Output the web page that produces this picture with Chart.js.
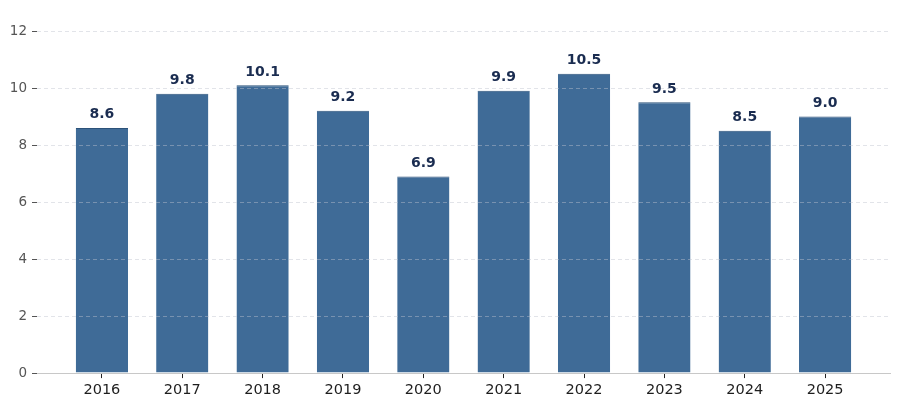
<!DOCTYPE html>
<html>
<head>
<meta charset="utf-8">
<script src="https://cdn.jsdelivr.net/npm/chart.js@4/dist/chart.umd.min.js"></script>
<style>
html,body{margin:0;padding:0;background:#fff;font-family:"DejaVu Sans";}
#wrap{width:902px;height:408px;position:relative;}
</style>
</head>
<body>
<div id="wrap"><canvas id="c" width="902" height="408"></canvas></div>
<script>
const categories = ["2016","2017","2018","2019","2020","2021","2022","2023","2024","2025"];
const values = [8.6, 9.8, 10.1, 9.2, 6.9, 9.9, 10.5, 9.5, 8.5, 9.0];
const yTicks = [0, 2, 4, 6, 8, 10, 12];

const FAMILY = "'DejaVu Sans', sans-serif";

const labelPlugin = {
  id: 'valueLabels',
  afterDraw(chart) {
    const ctx = chart.ctx;
    const meta = chart.getDatasetMeta(0);
    ctx.save();
    ctx.font = "bold 14px 'DejaVu Sans', sans-serif";
    ctx.fillStyle = '#1a2c50';
    ctx.textAlign = 'center';
    ctx.textBaseline = 'alphabetic';
    meta.data.forEach((bar, i) => {
      ctx.fillText(values[i].toFixed(1), bar.x, bar.y - 9.5);
    });
    ctx.restore();
  }
};

function draw() {
  new Chart(document.getElementById('c'), {
    type: 'bar',
    data: {
      datasets: [{
        data: values.map((v, i) => ({x: i, y: v})),
        backgroundColor: '#3f6b97',
        borderColor: '#2c5279',
        borderWidth: {top: 1, left: 0, right: 0, bottom: 0},
        barPercentage: 0.65,
        categoryPercentage: 1.0
      }]
    },
    options: {
      responsive: false,
      animation: false,
      devicePixelRatio: 1,
      layout: {padding: {top: 31, right: 12, left: 0, bottom: 6.5}},
      plugins: {legend: {display: false}, tooltip: {enabled: false}},
      scales: {
        x: {
          type: 'linear',
          min: -0.8075,
          max: 9.8075,
          offset: false,
          afterBuildTicks(scale) {
            scale.ticks = categories.map((c, i) => ({value: i}));
          },
          ticks: {
            callback: (v) => categories[v],
            color: '#1e1e1e',
            font: {family: FAMILY, size: 14.5},
            padding: 3,
            autoSkip: false,
            maxRotation: 0
          },
          grid: {
            display: true,
            offset: false,
            drawOnChartArea: false,
            drawTicks: true,
            tickLength: 5,
            tickColor: '#222',
            tickWidth: 1
          },
          border: {display: true, color: '#c8c8c8', width: 1, z: 2}
        },
        y: {
          min: 0,
          max: 12,
          afterBuildTicks(scale) {
            scale.ticks = yTicks.map(v => ({value: v}));
          },
          afterFit(scale) { scale.width = 37; },
          ticks: {
            color: '#555',
            font: {family: FAMILY, size: 13.5},
            padding: 5
          },
          grid: {
            z: 1,
            color: 'rgba(190,196,206,0.45)',
            lineWidth: 1,
            drawTicks: true,
            tickLength: 5,
            tickColor: '#555',
            tickBorderDash: [],
            tickWidth: 1
          },
          border: {display: false, dash: [4, 3]}
        }
      }
    },
    plugins: [labelPlugin]
  });
}

Promise.all([
  document.fonts.load("14px 'DejaVu Sans'"),
  document.fonts.load("bold 14px 'DejaVu Sans'")
]).then(draw, draw);
</script>
</body>
</html>
